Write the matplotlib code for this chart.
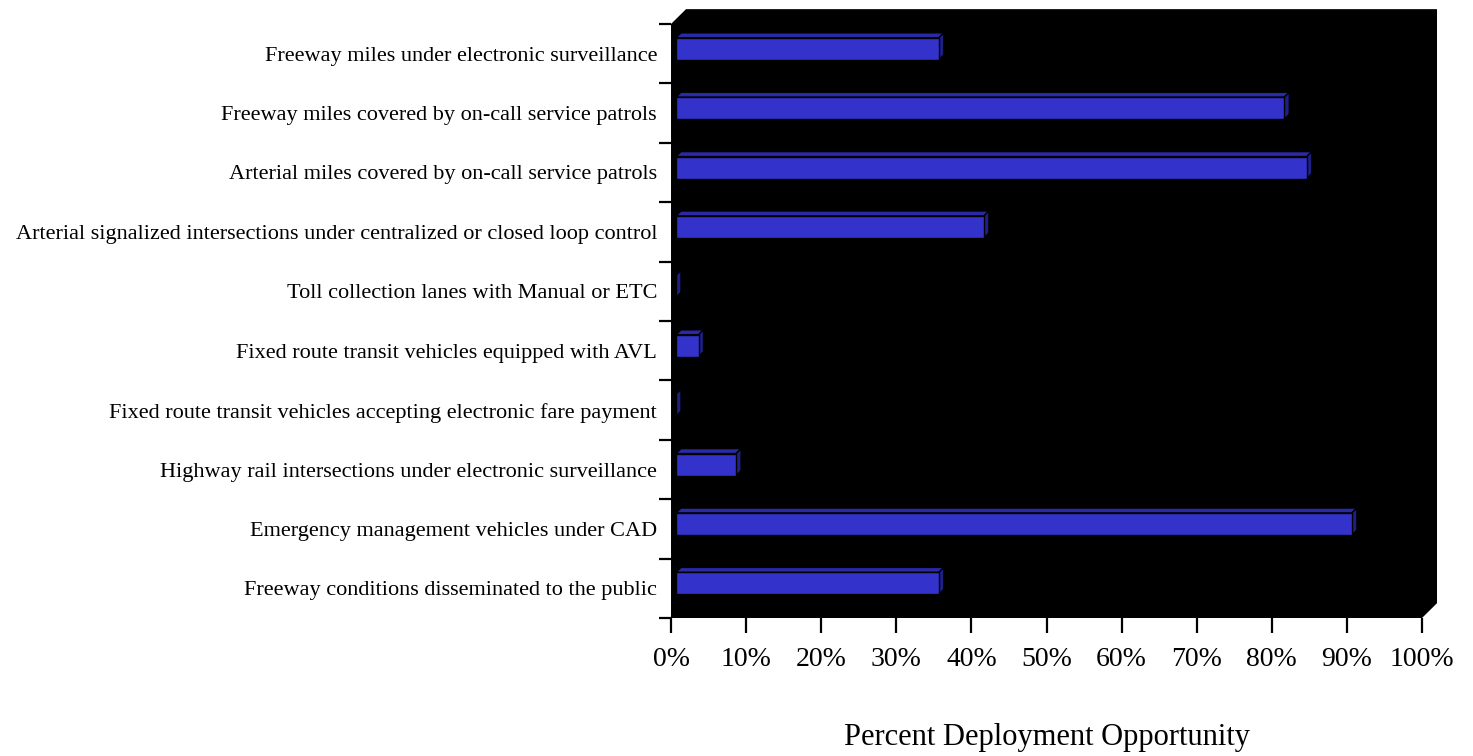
import matplotlib.pyplot as plt
from matplotlib.patches import Polygon
import numpy as np

# categories listed bottom to top, as they sit on the y axis
categories = [
    "Freeway conditions disseminated to the public",
    "Emergency management vehicles under CAD",
    "Highway rail intersections under electronic surveillance",
    "Fixed route transit vehicles accepting electronic fare payment",
    "Fixed route transit vehicles equipped with AVL",
    "Toll collection lanes with Manual or ETC",
    "Arterial signalized intersections under centralized or closed loop control",
    "Arterial miles covered by on-call service patrols",
    "Freeway miles covered by on-call service patrols",
    "Freeway miles under electronic surveillance",
]
percent = [35, 90, 8, 0, 3, 0, 41, 84, 81, 35]
xticks = list(range(0, 101, 10))
xticklabels = ["{}%".format(t) for t in xticks]

FRONT = "#3333cc"
TOP = "#2a2aa6"
SIDE = "#1f1f85"
FONT = "Liberation Serif"

# fake 3d depth of the floor, in data units
DX = 2.0
DY = 0.25
BAR_H = 0.37

fig = plt.figure(figsize=(14.73, 7.56), dpi=100)
ax = fig.add_axes([671 / 1473, 138 / 756, 751 / 1473, 594 / 756])
ax.set_xlim(0, 100)
ax.set_ylim(0, len(categories))
ax.patch.set_visible(False)
for s in ax.spines.values():
    s.set_visible(False)

# black box with cut corners (front plane + back wall)
box = Polygon([(0, 0), (0, len(categories)), (DX, len(categories) + DY),
               (100 + DX, len(categories) + DY), (100 + DX, DY), (100, 0)],
              closed=True, facecolor="black", edgecolor="none",
              clip_on=False, zorder=0)
ax.add_patch(box)

ys = np.arange(len(categories)) + 0.5
off_x = DX / 3
off_y = DY / 3
bx = DX / 3
by = DY / 3

for y, v in zip(ys, percent):
    yc = y + off_y
    y0 = yc - BAR_H / 2
    y1 = yc + BAR_H / 2
    x0 = off_x
    x1 = off_x + v
    top = Polygon([(x0, y1), (x0 + bx, y1 + by), (x1 + bx, y1 + by), (x1, y1)],
                  closed=True, facecolor=TOP, edgecolor="black", lw=1.0,
                  zorder=2, clip_on=False)
    side = Polygon([(x1, y0), (x1, y1), (x1 + bx, y1 + by), (x1 + bx, y0 + by)],
                   closed=True, facecolor=SIDE, edgecolor="black", lw=1.0,
                   zorder=2, clip_on=False)
    ax.add_patch(top)
    ax.add_patch(side)

ax.barh(ys + off_y, percent, height=BAR_H, left=off_x, color=FRONT,
        edgecolor="black", linewidth=1.0, zorder=3)

# y axis: ticks on the category boundaries, labels in between
ax.set_yticks(np.arange(len(categories) + 1))
ax.set_yticklabels([])
ax.set_yticks(ys, minor=True)
ax.set_yticklabels(categories, minor=True, fontsize=16, family=FONT)
ax.tick_params(axis="y", which="major", length=9, width=1.6, direction="out")
ax.tick_params(axis="y", which="minor", length=0, pad=10)

ax.set_xticks(xticks)
ax.set_xticklabels(xticklabels, fontsize=20, family=FONT)
ax.tick_params(axis="x", length=11, width=1.6, direction="out", pad=10)

ax.set_xlabel("Percent Deployment Opportunity", fontsize=22, family=FONT,
              va="center")
ax.xaxis.set_label_coords(0.5, -0.202)

fig.savefig("out.png", dpi=100)
